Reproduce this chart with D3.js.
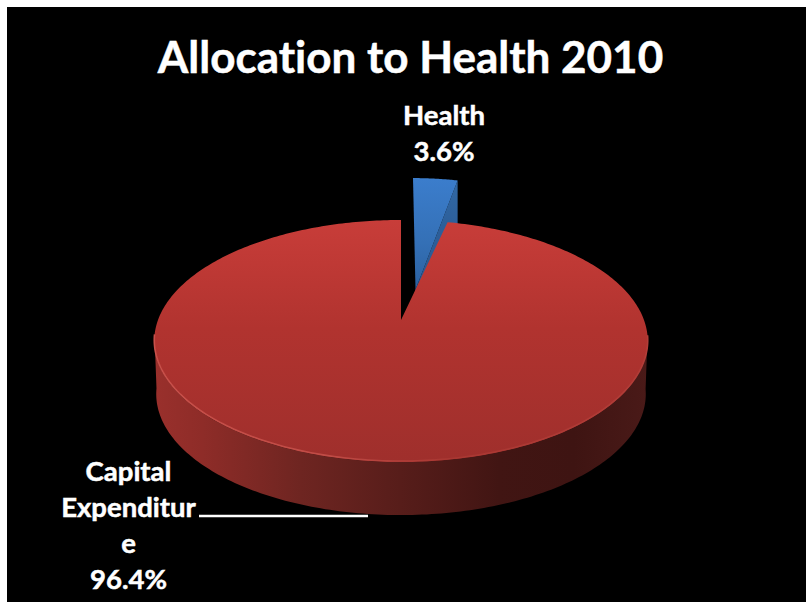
<!DOCTYPE html>
<html>
<head>
<meta charset="utf-8">
<style>
  html, body { margin: 0; padding: 0; background: #fff; }
  svg { display: block; }
  text { font-family: Lato, "Open Sans", sans-serif; font-weight: 700; fill: #fff; stroke: #fff; stroke-width: 0.5; text-anchor: middle; font-variant-ligatures: none; }
</style>
</head>
<body>
<svg id="chart" width="806" height="602"></svg>
<script src="https://cdn.jsdelivr.net/npm/d3@7"></script>
<script>
// Budget shares, in percent
const categories = ["Health", "Capital Expenditure"];
const shares = [3.6, 96.4];
const chartTitle = "Allocation to Health 2010";
const labelLines = [["Health"], ["Capital", "Expenditur", "e"]];

const svg = d3.select("#chart");
const defs = svg.append("defs");

// Backdrop panel
svg.append("rect").attr("x", 7).attr("y", 7).attr("width", 799).attr("height", 595).attr("fill", "#000");

// Perspective projection of the unit disk onto the slide
const apex = { x: 401, y: 320 };
const tilt = -0.1736, scaleX = 243, scaleY = 117.4, wallDepth = 53, wallNarrow = 0.992;
const project = (u, v) => {
  const w = 1 + tilt * v;
  return [apex.x + scaleX * u / w, apex.y + scaleY * v / w];
};

// Angular spans come straight from the shares
const slices = d3.pie().sort(null).value(d => d)(shares);
const angleSamples = (a0, a1, n = 180) => d3.range(n + 1).map(i => a0 + (a1 - a0) * i / n);
const rimPoint = a => project(Math.sin(a), -Math.cos(a));
const path = d3.line().curve(d3.curveLinear);

function gradient(id, horizontal, stops, range) {
  const g = defs.append("linearGradient").attr("id", id).attr("gradientUnits", "userSpaceOnUse");
  if (horizontal) g.attr("x1", range[0]).attr("x2", range[1]).attr("y1", 0).attr("y2", 0);
  else g.attr("x1", 0).attr("x2", 0).attr("y1", range[0]).attr("y2", range[1]);
  stops.forEach(([o, c]) => g.append("stop").attr("offset", o).attr("stop-color", c));
}
gradient("redTop", false, [[0, "#c83d39"], [0.45, "#b1332f"], [1, "#9f2f2c"]], [220, 462]);
gradient("redRim", true, [[0, "#c8504a"], [0.35, "#c04c46"], [0.6, "#a93732"], [1, "#b23d38"]], [153, 648]);
gradient("redWall", true, [
  [0, "#9a302c"], [0.1, "#8e2c28"], [0.3, "#6e2521"], [0.5, "#571d1a"],
  [0.7, "#411513"], [0.85, "#3e1412"], [1, "#4a1a18"]
], [153, 648]);
gradient("blueTop", false, [[0, "#3b7dcc"], [0.55, "#3470b6"], [1, "#2a5f9c"]], [179, 295]);
gradient("blueWall", false, [[0, "#3169a6"], [0.4, "#2d5f9a"], [1, "#2a5890"]], [180, 295]);

// Exploded health slice: pushed back along its bisector and sits behind the large slice
const health = slices[0];
const shiftU = 0.0625, shiftV = -0.27, reachU = 1.03, reachV = 1.26;
const healthPoint = (a, r) => project(shiftU + r * reachU * Math.sin(a), shiftV - r * reachV * Math.cos(a));
const healthApex = healthPoint(0, 0);
const healthRim = angleSamples(health.startAngle, health.endAngle, 30).map(a => healthPoint(a, 1));
const healthEdge = healthRim[healthRim.length - 1];
const blue = svg.append("g").attr("class", "slice-health");
blue.append("path")
  .attr("d", path([healthApex, healthEdge, [healthEdge[0], healthEdge[1] + wallDepth * 2.2], [healthApex[0], healthApex[1] + wallDepth]]) + "Z")
  .attr("fill", "url(#blueWall)");
blue.append("path")
  .attr("d", path([healthApex, ...healthRim]) + "Z")
  .attr("fill", "url(#blueTop)");

// Side wall of the large slice: only the front part of the rim faces the viewer
const capital = slices[1];
const allAngles = angleSamples(capital.startAngle, capital.endAngle, 360);
const frontAngles = allAngles.filter(a => -Math.cos(a) > 0.12);
const topRim = frontAngles.map(rimPoint);
const bottomRim = topRim.map(([x, y]) => [apex.x + (x - apex.x) * wallNarrow, y + wallDepth]);
svg.append("path")
  .attr("class", "wall-capital")
  .attr("d", path([...topRim, ...bottomRim.slice().reverse()]) + "Z")
  .attr("fill", "url(#redWall)");

// Top face of the large slice, with a soft bevel along its front edge
svg.append("path")
  .attr("class", "slice-capital")
  .attr("d", path([[apex.x, apex.y], ...allAngles.map(rimPoint)]) + "Z")
  .attr("fill", "url(#redTop)");
svg.append("path")
  .attr("d", path(topRim.map(([x, y]) => [x, y - 1])))
  .attr("fill", "none")
  .attr("stroke", "url(#redRim)")
  .attr("stroke-width", 1.6);

// Title
svg.append("text").attr("x", 410.5).attr("y", 73).attr("font-size", 44).text(chartTitle);

// Data labels
const pct = d3.format(".1f");
const labelSpots = [{ x: 444, y: 125 }, { x: 128.5, y: 481 }];
const labelStep = 36;
labelSpots.forEach((spot, i) => {
  const lines = [...labelLines[i], pct(shares[i]) + "%"];
  const label = svg.append("g").attr("class", "label").attr("aria-label", categories[i]);
  lines.forEach((line, j) => {
    label.append("text").attr("x", spot.x).attr("y", spot.y + j * labelStep).attr("font-size", 27.5).text(line);
  });
});

// Leader from the large slice's label
svg.append("line").attr("x1", 199).attr("x2", 368).attr("y1", 516).attr("y2", 516)
  .attr("stroke", "#fff").attr("stroke-width", 2.4);
</script>
</body>
</html>
